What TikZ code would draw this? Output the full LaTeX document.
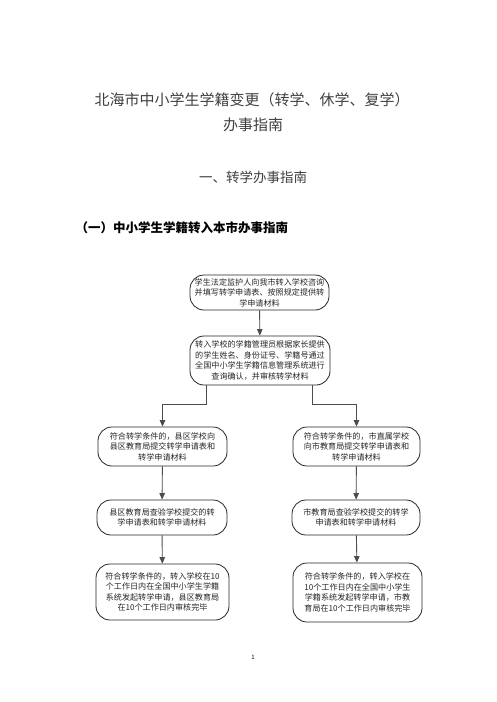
\documentclass[tikz,border=0pt]{standalone}
\usepackage{fontspec}
\usepackage{tikz}
\usetikzlibrary{arrows.meta}
\newfontfamily\cjk{Noto Sans CJK SC}

\begin{document}
\begin{tikzpicture}[x=1pt,y=-1pt,
    box/.style={draw=black!85,line width=0.8pt,rounded corners=14pt,align=center,
      inner sep=2pt,text=black!85,font=\cjk\fontsize{8.1}{10.5}\selectfont},
    link/.style={draw=black!70,line width=0.9pt,-{Triangle[length=6.5pt,width=5.5pt]}}]
       \useasboundingbox[fill=white](0,0)rectangle(496,702);
       % headings
       \node(Title)at(252,100){\cjk\fontsize{15}{18}\selectfont\color{black!75}北海市中小学生学籍变更（转学、休学、复学）};
       \node(SubTitle)at(253,125){\cjk\fontsize{15}{18}\selectfont\color{black!75}办事指南};
       \node(Section)at(253,177){\cjk\fontsize{13.5}{16}\selectfont\color{black!75}一、转学办事指南};
       \node[anchor=west](SubSection)at(72,228){\cjk\bfseries\fontsize{12.5}{15}\selectfont（一）中小学生学籍转入本市办事指南};
       % flow boxes
       \node[box,minimum width=139pt,minimum height=35pt](Consult)at(259.5,292.5)
         {学生法定监护人向我市转入学校咨询\\并填写转学申请表、按照规定提供转\\学申请材料};
       \node[box,minimum width=140pt,minimum height=49pt](Verify)at(260,360.5)
         {转入学校的学籍管理员根据家长提供\\的学生姓名、身份证号、学籍号通过\\全国中小学生学籍信息管理系统进行\\查询确认，并审核转学材料};
       \node[box,minimum width=129pt,minimum height=39pt](CountySubmit)at(162.5,446.5)
         {符合转学条件的，县区学校向\\县区教育局提交转学申请表和\\转学申请材料};
       \node[box,minimum width=127pt,minimum height=39pt](CitySubmit)at(356.5,446.5)
         {符合转学条件的，市直属学校\\向市教育局提交转学申请表和\\转学申请材料};
       \node[box,minimum width=130pt,minimum height=35pt](CountyCheck)at(162,517.5)
         {县区教育局查验学校提交的转\\学申请表和转学申请材料};
       \node[box,minimum width=128pt,minimum height=35pt](CityCheck)at(356,517.5)
         {市教育局查验学校提交的转学\\申请表和转学申请材料};
       \node[box,minimum width=133pt,minimum height=56pt](CountyFinish)at(162.5,592)
         {符合转学条件的，转入学校在10\\个工作日内在全国中小学生学籍\\系统发起转学申请，县区教育局\\在10个工作日内审核完毕};
       \node[box,minimum width=129pt,minimum height=59pt](CityFinish)at(357.5,592.5)
         {符合转学条件的，转入学校在\\10个工作日内在全国中小学生\\学籍系统发起转学申请，市教\\育局在10个工作日内审核完毕};
       % connectors
       \coordinate(LeftTurn)at(206,404);
       \coordinate(RightTurn)at(312,404);
       \draw[link](Consult)--(Verify);
       \draw[link](Verify.south-|LeftTurn)--(LeftTurn)-|(CountySubmit.north);
       \draw[link](Verify.south-|RightTurn)--(RightTurn)-|(CitySubmit.north);
       \draw[link](CountySubmit)--(CountyCheck);
       \draw[link](CitySubmit)--(CityCheck);
       \draw[link](CountyCheck)--(CountyFinish);
       \draw[link](CityCheck)--(CityFinish);
       % page number
       \node(PageNo)at(253,657){\cjk\fontsize{6}{7}\selectfont 1};
      \end{tikzpicture}
\end{document}
